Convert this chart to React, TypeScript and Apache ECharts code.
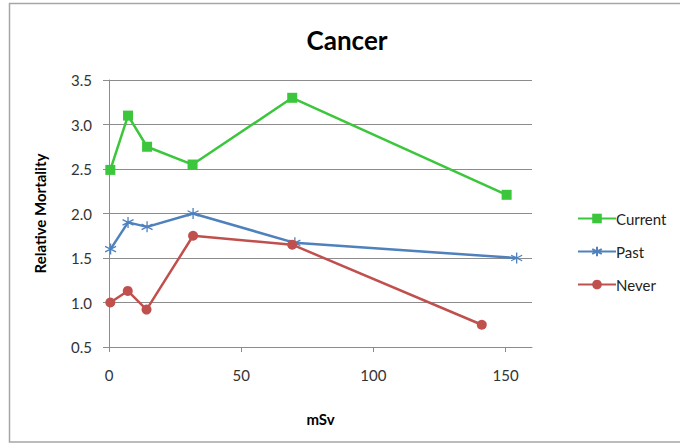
import React, { useEffect, useRef } from "react";
import * as echarts from "echarts";

const title = "Cancer";
const xAxisName = "mSv";
const yAxisName = "Relative Mortality";
const xTicks = [0, 50, 100, 150];

const currentX = [0.5, 7.2, 14.4, 31.6, 69.3, 150.4];
const currentY = [2.49, 3.1, 2.75, 2.55, 3.3, 2.21];
const pastX = [0.6, 7.2, 14.4, 31.8, 70.3, 154.2];
const pastY = [1.6, 1.9, 1.85, 2.0, 1.67, 1.5];
const neverX = [0.5, 7.1, 14.2, 31.8, 69.3, 141];
const neverY = [1.0, 1.13, 0.92, 1.75, 1.65, 0.75];

const FONT = "Lato, 'Open Sans', sans-serif";
const ASTERISK = "path://M5,0 L5,10 M0.7,2.5 L9.3,7.5 M0.7,7.5 L9.3,2.5";

function pairs(xs: number[], ys: number[]) {
  return xs.map((x, i) => [x, ys[i]]);
}

export default function App() {
  const ref = useRef<HTMLDivElement>(null);
  useEffect(() => {
    if (!ref.current) return;
    const chart = echarts.init(ref.current, null, { renderer: "svg" });
    chart.setOption({
      animation: false,
      backgroundColor: "#ffffff",
      textStyle: { fontFamily: FONT },
      graphic: [
        {
          type: "rect",
          shape: { x: 9.5, y: 3.5, width: 700, height: 438.5 },
          style: { fill: "none", stroke: "#a6a6a6", lineWidth: 1.5 },
          silent: true,
        },
      ],
      title: {
        text: title,
        left: 342,
        textAlign: "center",
        top: 22,
        textStyle: { fontFamily: FONT, fontSize: 26, fontWeight: "bold", color: "#000" },
      },
      legend: {
        orient: "vertical",
        left: 572,
        top: 206,
        itemWidth: 38,
        itemHeight: 12,
        itemGap: 18,
        textStyle: { fontFamily: FONT, fontSize: 15, color: "#222", padding: [0, 0, 0, -5] },
        data: ["Current", "Past", "Never"],
      },
      grid: { left: 109, right: 148, top: 80, bottom: 97, containLabel: false },
      xAxis: {
        type: "value",
        min: 0,
        max: 160,
        interval: 50,
        name: xAxisName,
        nameLocation: "middle",
        nameGap: 64,
        nameTextStyle: { fontFamily: FONT, fontSize: 15, fontWeight: "bold", color: "#000" },
        axisLine: { show: true, lineStyle: { color: "#8c8c8c", width: 1 } },
        axisTick: { show: true, length: 5, lineStyle: { color: "#8c8c8c" }, customValues: xTicks },
        axisLabel: { fontFamily: FONT, fontSize: 15, color: "#333", margin: 20, customValues: xTicks },
        splitLine: { show: false },
      },
      yAxis: {
        type: "value",
        min: 0.5,
        max: 3.5,
        interval: 0.5,
        name: yAxisName,
        nameLocation: "middle",
        nameGap: 62,
        nameTextStyle: { fontFamily: FONT, fontSize: 15, fontWeight: "bold", color: "#000" },
        axisLine: { show: true, lineStyle: { color: "#8c8c8c", width: 1 } },
        axisTick: { show: true, length: 6, lineStyle: { color: "#8c8c8c" } },
        axisLabel: {
          fontFamily: FONT,
          fontSize: 15,
          color: "#333",
          margin: 17,
          formatter: (v: number) => v.toFixed(1),
        },
        splitLine: { show: true, lineStyle: { color: "#8c8c8c", width: 1 } },
      },
      series: [
        {
          name: "Current",
          type: "line",
          data: pairs(currentX, currentY),
          symbol: "rect",
          symbolSize: 10,
          lineStyle: { color: "#3cc63c", width: 2.5 },
          itemStyle: { color: "#3cc63c" },
        },
        {
          name: "Past",
          type: "line",
          data: pairs(pastX, pastY),
          symbol: ASTERISK,
          symbolSize: 11,
          lineStyle: { color: "#4f81bd", width: 2.5 },
          itemStyle: { color: "#4f81bd", borderColor: "#4f81bd", borderWidth: 1.3 },
        },
        {
          name: "Never",
          type: "line",
          data: pairs(neverX, neverY),
          symbol: "circle",
          symbolSize: 10,
          lineStyle: { color: "#c0504d", width: 2.5 },
          itemStyle: { color: "#c0504d" },
        },
      ],
    });
    return () => chart.dispose();
  }, []);
  return (
    <div
      ref={ref}
      style={{ position: "fixed", left: 0, top: 0, width: 680, height: 444 }}
    />
  );
}
